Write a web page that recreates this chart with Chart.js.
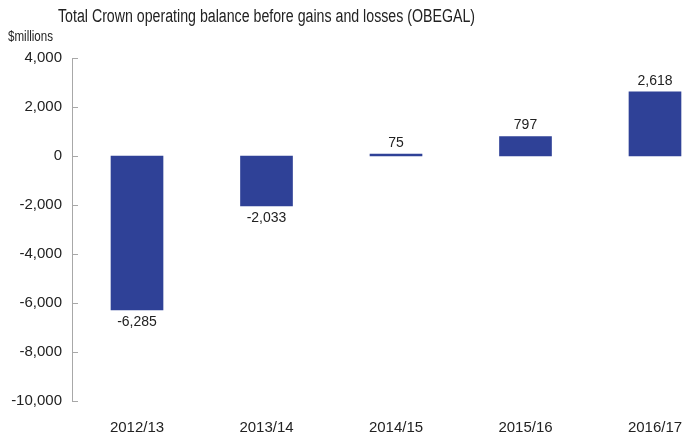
<!DOCTYPE html>
<html>
<head>
<meta charset="utf-8">
<script src="https://cdn.jsdelivr.net/npm/chart.js@4"></script>
<style>
  html, body { margin: 0; padding: 0; background: #fff; }
  #wrap { width: 684px; height: 433px; }
</style>
</head>
<body>
<div id="wrap"><canvas id="obegalChart"></canvas></div>
<script>
// OBEGAL by fiscal year, $ millions
const years = ['2012/13', '2013/14', '2014/15', '2015/16', '2016/17'];
const obegal = [-6285, -2033, 75, 797, 2618];
const yTicks = [4000, 2000, 0, -2000, -4000, -6000, -8000, -10000];

const FONT = 'Liberation Sans, Arial, sans-serif';
const TEXT = '#222222';
const BAR = '#2f4197';
const AXIS = '#a8a8a8';

const fmt = v => v.toLocaleString('en-US');

// draws text squeezed horizontally to a given width (narrow face look)
function narrowText(ctx, text, x, y, size, width) {
    ctx.font = size + 'px ' + FONT;
    const k = width / ctx.measureText(text).width;
    ctx.save();
    ctx.translate(x, y);
    ctx.scale(k, 1);
    ctx.fillText(text, 0, 0);
    ctx.restore();
}

// title, unit label, inward tick marks and bar value labels
const decorations = {
    id: 'decorations',
    afterDraw(chart) {
        const ctx = chart.ctx;
        const yScale = chart.scales.y;
        const left = chart.chartArea.left;
        ctx.save();

        ctx.fillStyle = TEXT;
        ctx.textBaseline = 'middle';
        ctx.textAlign = 'left';
        narrowText(ctx, 'Total Crown operating balance before gains and losses (OBEGAL)', 58, 17, 18, 417);
        narrowText(ctx, '$millions', 8, 37, 14, 45);

        ctx.strokeStyle = AXIS;
        ctx.lineWidth = 1;
        ctx.beginPath();
        yTicks.forEach(t => {
            const y = Math.round(yScale.getPixelForValue(t)) + 0.5;
            ctx.moveTo(left, y);
            ctx.lineTo(left + 6, y);
        });
        ctx.stroke();

        ctx.font = '14px ' + FONT;
        ctx.textAlign = 'center';
        chart.getDatasetMeta(0).data.forEach((bar, i) => {
            const v = obegal[i];
            if (v >= 0) {
                ctx.textBaseline = 'bottom';
                ctx.fillText(fmt(v), bar.x, bar.y - 4);
            } else {
                ctx.textBaseline = 'top';
                ctx.fillText(fmt(v), bar.x, bar.y + 5);
            }
        });
        ctx.restore();
    }
};

new Chart(document.getElementById('obegalChart'), {
    type: 'bar',
    data: {
        datasets: [{
            data: obegal.map((v, i) => ({ x: i, y: v })),
            backgroundColor: BAR,
            barThickness: 52
        }]
    },
    options: {
        responsive: true,
        maintainAspectRatio: false,
        animation: false,
        layout: { padding: { top: 58, left: 0, right: 0, bottom: 0 } },
        plugins: {
            legend: { display: false },
            tooltip: { enabled: false }
        },
        scales: {
            x: {
                type: 'linear',
                offset: false,
                min: -0.502,
                max: 4.224,
                grid: { display: false },
                border: { display: false },
                afterBuildTicks(scale) {
                    scale.ticks = years.map((_, i) => ({ value: i }));
                },
                afterFit(scale) {
                    // keep the plot running right up to the canvas edge
                    scale.height = 32;
                    scale.paddingLeft = 0;
                    scale.paddingRight = 0;
                },
                ticks: {
                    autoSkip: false,
                    maxRotation: 0,
                    padding: 10,
                    color: TEXT,
                    font: { family: FONT, size: 15 },
                    callback: v => years[v]
                }
            },
            y: {
                min: -10000,
                max: 4000,
                grid: { display: false, drawTicks: false },
                border: { display: true, color: AXIS, width: 1 },
                afterBuildTicks(scale) {
                    scale.ticks = yTicks.map(v => ({ value: v }));
                },
                afterFit(scale) { scale.width = 72; },
                ticks: {
                    padding: 10,
                    color: TEXT,
                    font: { family: FONT, size: 15 },
                    callback: v => fmt(v)
                }
            }
        }
    },
    plugins: [decorations]
});
</script>
</body>
</html>
